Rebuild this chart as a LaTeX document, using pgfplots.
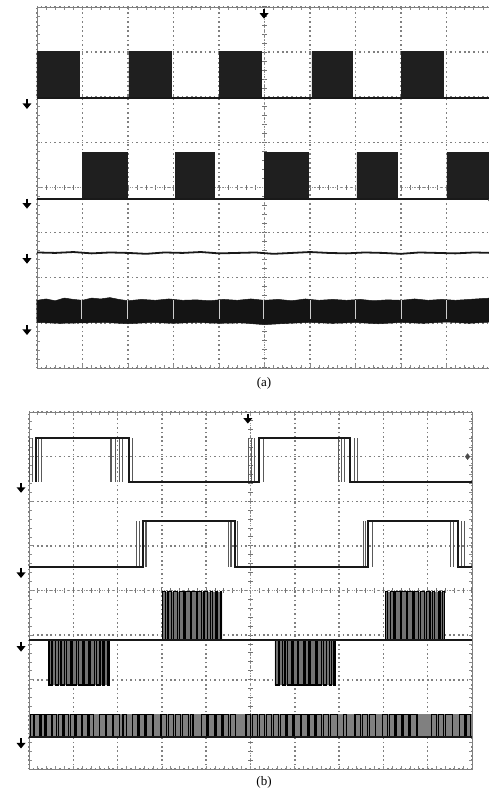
\documentclass[border=0pt]{standalone}
\usepackage{pgfplots}
\pgfplotsset{compat=1.18}
\usepackage{fontspec}
\setmainfont{Liberation Serif}
\pgfdeclareplotmark{gnd}{%
  \pgfsetlinewidth{1.4pt}%
  \pgfpathmoveto{\pgfqpoint{0pt}{6pt}}%
  \pgfpathlineto{\pgfqpoint{0pt}{0pt}}%
  \pgfusepathqstroke
  \pgfpathmoveto{\pgfqpoint{-4.5pt}{1.5pt}}%
  \pgfpathlineto{\pgfqpoint{4.5pt}{1.5pt}}%
  \pgfpathlineto{\pgfqpoint{0pt}{-4pt}}%
  \pgfpathclose
  \pgfusepathqfill
}
\pgfplotsset{
  panelA/.style={scale only axis, width=455pt, height=361pt, at={(37pt,425pt)}, anchor=south west,
    major grid style={black!50, line width=1.5pt, dash pattern=on 1.6pt off 2.95pt, dash phase=0.8pt}},
  panelB/.style={scale only axis, width=443pt, height=357pt, at={(29pt,24pt)}, anchor=south west,
    major grid style={black!50, line width=1.5pt, dash pattern=on 1.6pt off 2.83pt, dash phase=0.8pt}},
  frame/.style={xmin=0,xmax=10,ymin=0,ymax=8, xtick={0,...,10}, ytick={0,...,8},
    xticklabels={}, yticklabels={}, grid=major,
    minor x tick num=4, minor y tick num=4, tick align=inside, tick pos=both,
    major tick length=3.5pt, minor tick length=3pt,
    tick style={black!45, line width=0.8pt}, axis line style={black!50, line width=0.9pt}},
  center/.style={xmin=-5,xmax=5,ymin=-4,ymax=4, axis lines=middle,
    xtick={-5,...,5}, ytick={-4,...,4}, xticklabels={}, yticklabels={},
    minor x tick num=4, minor y tick num=4, tick align=center,
    major tick length=5pt, minor tick length=4.5pt,
    tick style={black!55, line width=1pt},
    axis line style={-, black!40, line width=0.8pt, dash pattern=on 1pt off 1.5pt}},
  trace/.style={xmin=0,xmax=10,ymin=0,ymax=8, hide axis, clip=false},
}
\begin{document}
\begin{tikzpicture}
\useasboundingbox (0,0) rectangle (489pt,793pt);
% ---------------- panel (a) ----------------
\begin{axis}[panelA, frame]
\end{axis}
\begin{axis}[panelA, center]
\end{axis}
\begin{axis}[panelA, trace]
% ch1
\addplot[fill=black!88, draw=black!88, line width=0.6pt] coordinates {(0,5.98)(0,7.01)(0.93,7.01)(0.93,5.98)(2.02,5.98)(2.02,7.01)(2.95,7.01)(2.95,5.98)(4.0,5.98)(4.0,7.01)(4.92,7.01)(4.92,5.98)(6.04,5.98)(6.04,7.01)(6.92,7.01)(6.92,5.98)(8.0,5.98)(8.0,7.01)(8.92,7.01)(8.92,5.98)(10,5.98)};
\addplot[black!90, line width=1.8pt] coordinates {(0,5.98)(10,5.98)};
% ch2
\addplot[fill=black!88, draw=black!88, line width=0.6pt] coordinates {(0,3.75)(0.99,3.75)(0.99,4.77)(1.98,4.77)(1.98,3.75)(3.05,3.75)(3.05,4.77)(3.89,4.77)(3.89,3.75)(4.99,3.75)(4.99,4.77)(5.96,4.77)(5.96,3.75)(7.03,3.75)(7.03,4.77)(7.91,4.77)(7.91,3.75)(9.01,3.75)(9.01,4.77)(10,4.77)(10,3.75)};
\addplot[black!90, line width=1.8pt] coordinates {(0,3.75)(10,3.75)};
% ch3
\addplot[black!90, line width=1.8pt] coordinates {(0,2.56)(0.4,2.55)(0.8,2.57)(1.2,2.54)(1.6,2.56)(2.0,2.55)(2.4,2.53)(2.8,2.56)(3.2,2.55)(3.6,2.57)(4.0,2.54)(4.4,2.55)(4.8,2.56)(5.2,2.53)(5.6,2.55)(6.0,2.57)(6.4,2.55)(6.8,2.54)(7.2,2.56)(7.6,2.55)(8.0,2.53)(8.4,2.56)(8.8,2.55)(9.2,2.54)(9.6,2.56)(10,2.55)};
% ch4
\addplot[fill=black!92, draw=black!92, line width=0.5pt] coordinates {(0,1.50)(0.2,1.53)(0.4,1.49)(0.6,1.55)(0.8,1.52)(1.0,1.5)(1.2,1.55)(1.4,1.53)(1.6,1.56)(1.8,1.52)(2.0,1.49)(2.3,1.52)(2.6,1.5)(2.9,1.53)(3.2,1.5)(3.5,1.51)(3.8,1.49)(4.1,1.52)(4.4,1.5)(4.7,1.53)(5.0,1.5)(5.3,1.52)(5.6,1.49)(5.9,1.53)(6.2,1.5)(6.5,1.52)(6.8,1.5)(7.1,1.52)(7.4,1.49)(7.7,1.51)(8.0,1.5)(8.3,1.53)(8.6,1.5)(8.9,1.52)(9.2,1.5)(9.5,1.52)(9.8,1.54)(10,1.55)(10,1.02)(9.5,0.99)(9.0,1.02)(8.5,0.99)(8.0,1.01)(7.5,0.98)(7.0,1.01)(6.5,0.99)(6.0,1.01)(5.5,0.99)(5.0,0.96)(4.5,1.0)(4.0,0.99)(3.5,1.01)(3.0,0.99)(2.5,1.01)(2.0,0.98)(1.5,1.01)(1.0,1.0)(0.5,0.99)(0,1.01)} -- cycle;
\addplot[white!80!black, line width=1pt, unbounded coords=jump] coordinates {(0.97,1.5)(0.97,1.08)(0.97,nan)(1.98,1.5)(1.98,1.08)(1.98,nan)(2.99,1.5)(2.99,1.08)(2.99,nan)(4.02,1.5)(4.02,1.08)(4.02,nan)(4.97,1.5)(4.97,1.08)(4.97,nan)(6.0,1.5)(6.0,1.08)(6.0,nan)(6.99,1.5)(6.99,1.08)(6.99,nan)(8.02,1.5)(8.02,1.08)(8.02,nan)(9.01,1.5)(9.01,1.08)};
% markers
\addplot[only marks, mark=gnd, black] coordinates {(-0.22,5.83)(-0.22,3.62)(-0.22,2.40)(-0.22,0.82)(4.99,7.83)};
\addplot[only marks, mark=diamond*, mark size=3pt, black!70] coordinates {(9.97,3.72)};
\end{axis}
\node[font=\fontsize{13}{15}\selectfont] at (264pt,410pt) {(a)};
% ---------------- panel (b) ----------------
\begin{axis}[panelB, frame]
\end{axis}
\begin{axis}[panelB, center]
\end{axis}
\begin{axis}[panelB, trace]
% ch1 jitter
\addplot[black!65, line width=1.1pt, unbounded coords=jump] coordinates {(0.02,6.44)(0.02,7.42)(0.02,nan)(0.07,6.44)(0.07,7.42)(0.07,nan)(0.22,6.44)(0.22,7.42)(0.22,nan)(0.28,6.44)(0.28,7.42)(0.28,nan)(1.85,6.44)(1.85,7.42)(1.85,nan)(1.95,6.44)(1.95,7.42)(1.95,nan)(2.05,6.44)(2.05,7.42)(2.05,nan)(2.12,6.44)(2.12,7.42)(2.12,nan)(2.33,6.44)(2.33,7.42)(2.33,nan)(4.95,6.44)(4.95,7.42)(4.95,nan)(5.02,6.44)(5.02,7.42)(5.02,nan)(5.1,6.44)(5.1,7.42)(5.1,nan)(5.3,6.44)(5.3,7.42)(5.3,nan)(6.98,6.44)(6.98,7.42)(6.98,nan)(7.05,6.44)(7.05,7.42)(7.05,nan)(7.12,6.44)(7.12,7.42)(7.12,nan)(7.35,6.44)(7.35,7.42)(7.35,nan)(7.42,6.44)(7.42,7.42)};
\addplot[black!90, line width=2pt] coordinates {(0.15,6.44)(0.15,7.42)(2.25,7.42)(2.25,6.44)(5.2,6.44)(5.2,7.42)(7.25,7.42)(7.25,6.44)(10,6.44)};
% ch2 jitter
\addplot[black!65, line width=1.1pt, unbounded coords=jump] coordinates {(2.43,4.53)(2.43,5.56)(2.43,nan)(2.5,4.53)(2.5,5.56)(2.5,nan)(2.64,4.53)(2.64,5.56)(2.64,nan)(4.5,4.53)(4.5,5.56)(4.5,nan)(4.56,4.53)(4.56,5.56)(4.56,nan)(4.71,4.53)(4.71,5.56)(4.71,nan)(7.55,4.53)(7.55,5.56)(7.55,nan)(7.6,4.53)(7.6,5.56)(7.6,nan)(7.75,4.53)(7.75,5.56)(7.75,nan)(9.52,4.53)(9.52,5.56)(9.52,nan)(9.58,4.53)(9.58,5.56)(9.58,nan)(9.76,4.53)(9.76,5.56)(9.76,nan)(9.83,4.53)(9.83,5.56)};
\addplot[black!90, line width=2pt] coordinates {(0,4.53)(2.57,4.53)(2.57,5.56)(4.65,5.56)(4.65,4.53)(7.65,4.53)(7.65,5.56)(9.69,5.56)(9.69,4.53)(10,4.53)};
% ch3 fill
\addplot[fill=black!55, draw=none] coordinates {(0.43,2.89)(0.43,1.88)(1.82,1.88)(1.82,2.89)(3.02,2.89)(3.02,3.97)(4.36,3.97)(4.36,2.89)(5.55,2.89)(5.55,1.88)(6.91,1.88)(6.91,2.89)(8.04,2.89)(8.04,3.97)(9.39,3.97)(9.39,2.89)} -- cycle;
\addplot[const plot, black, line width=1.3pt] coordinates {(0,2.89)(0.45,1.88)(0.52,2.89)(0.6,1.88)(0.66,2.89)(0.72,1.88)(0.8,2.89)(0.84,1.88)(0.94,2.89)(0.97,1.88)(1.08,2.89)(1.11,1.88)(1.2,2.89)(1.24,1.88)(1.34,2.89)(1.38,1.88)(1.48,2.89)(1.53,1.88)(1.6,2.89)(1.67,1.88)(1.71,2.89)(1.78,1.88)(1.81,2.89)(3.02,3.97)(3.08,2.89)(3.14,3.97)(3.22,2.89)(3.26,3.97)(3.36,2.89)(3.39,3.97)(3.5,2.89)(3.53,3.97)(3.64,2.89)(3.67,3.97)(3.78,2.89)(3.81,3.97)(3.9,2.89)(3.95,3.97)(4.03,2.89)(4.09,3.97)(4.14,2.89)(4.22,3.97)(4.26,2.89)(4.32,3.97)(4.35,2.89)(5.57,1.88)(5.64,2.89)(5.72,1.88)(5.78,2.89)(5.84,1.88)(5.92,2.89)(5.96,1.88)(6.06,2.89)(6.09,1.88)(6.2,2.89)(6.23,1.88)(6.32,2.89)(6.36,1.88)(6.46,2.89)(6.5,1.88)(6.6,2.89)(6.65,1.88)(6.72,2.89)(6.79,1.88)(6.83,2.89)(6.88,1.88)(6.91,2.89)(8.04,3.97)(8.10,2.89)(8.16,3.97)(8.24,2.89)(8.28,3.97)(8.38,2.89)(8.41,3.97)(8.52,2.89)(8.55,3.97)(8.66,2.89)(8.69,3.97)(8.8,2.89)(8.83,3.97)(8.92,2.89)(8.97,3.97)(9.05,2.89)(9.11,3.97)(9.16,2.89)(9.24,3.97)(9.28,2.89)(9.34,3.97)(9.38,2.89)(10,2.89)};
\addplot[black!90, line width=1.8pt] coordinates {(0,2.89)(10,2.89)};
% ch4
\addplot[fill=black!50, draw=none] coordinates {(0.03,0.72)(0.03,1.23)(10,1.23)(10,0.72)} -- cycle;
\addplot[const plot, black, line width=1.2pt] coordinates {(0,0.72)(0.03,1.23)(0.1,0.72)(0.13,1.23)(0.24,0.72)(0.27,1.23)(0.36,0.72)(0.39,1.23)(0.5,0.72)(0.53,1.23)(0.62,0.72)(0.66,1.23)(0.76,0.72)(0.79,1.23)(0.9,0.72)(0.93,1.23)(1.04,0.72)(1.07,1.23)(1.18,0.72)(1.21,1.23)(1.33,0.72)(1.36,1.23)(1.46,0.72)(1.6,1.23)(1.72,0.72)(1.75,1.23)(1.88,0.72)(1.91,1.23)(2.04,0.72)(2.12,1.23)(2.2,0.72)(2.34,1.23)(2.46,0.72)(2.5,1.23)(2.62,0.72)(2.66,1.23)(2.8,0.72)(2.98,1.23)(3.1,0.72)(3.14,1.23)(3.26,0.72)(3.3,1.23)(3.42,0.72)(3.46,1.23)(3.6,0.72)(3.64,1.23)(3.7,0.72)(3.9,1.23)(4.02,0.72)(4.06,1.23)(4.18,0.72)(4.22,1.23)(4.34,0.72)(4.38,1.23)(4.5,0.72)(4.54,1.23)(4.66,0.72)(4.9,1.23)(5.0,0.72)(5.04,1.23)(5.16,0.72)(5.2,1.23)(5.32,0.72)(5.36,1.23)(5.48,0.72)(5.52,1.23)(5.64,0.72)(5.68,1.23)(5.8,0.72)(5.84,1.23)(5.96,0.72)(6.0,1.23)(6.12,0.72)(6.16,1.23)(6.28,0.72)(6.32,1.23)(6.44,0.72)(6.48,1.23)(6.6,0.72)(6.64,1.23)(6.76,0.72)(6.8,1.23)(6.96,0.72)(7.1,1.23)(7.16,0.72)(7.36,1.23)(7.48,0.72)(7.52,1.23)(7.64,0.72)(7.68,1.23)(7.82,0.72)(7.98,1.23)(8.1,0.72)(8.14,1.23)(8.26,0.72)(8.3,1.23)(8.42,0.72)(8.46,1.23)(8.58,0.72)(8.62,1.23)(8.76,0.72)(9.08,1.23)(9.2,0.72)(9.24,1.23)(9.36,0.72)(9.4,1.23)(9.56,0.72)(9.72,1.23)(9.84,0.72)(9.88,1.23)(9.97,0.72)(10,0.72)};
\addplot[black!90, line width=1.8pt] coordinates {(0,0.72)(10,0.72)};
% markers
\addplot[only marks, mark=gnd, black] coordinates {(-0.18,6.28)(-0.18,4.37)(-0.18,2.72)(-0.18,0.55)(4.94,7.83)};
\addplot[only marks, mark=diamond*, mark size=3pt, black!70] coordinates {(9.9,7.0)};
\end{axis}
\node[font=\fontsize{13}{15}\selectfont] at (264pt,11pt) {(b)};
\end{tikzpicture}
\end{document}
